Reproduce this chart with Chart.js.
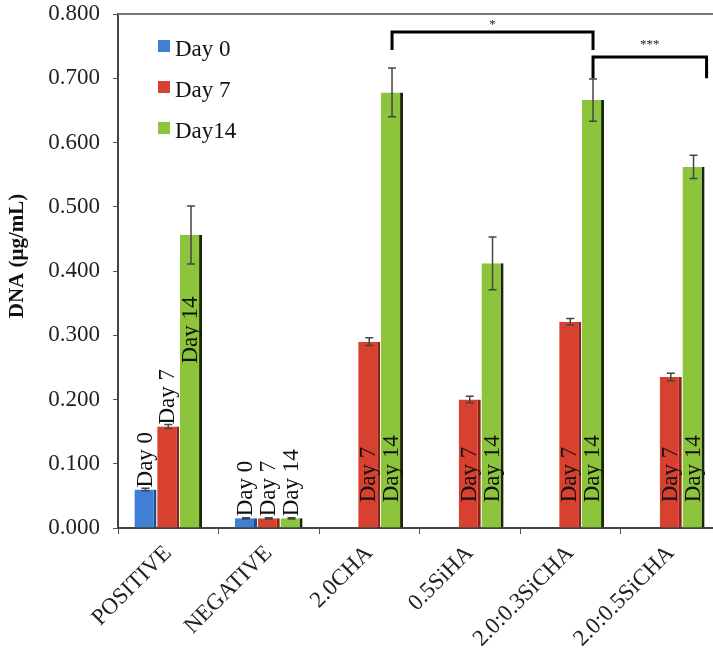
<!DOCTYPE html>
<html>
<head>
<meta charset="utf-8">
<script src="https://cdn.jsdelivr.net/npm/chart.js@4.4.1/dist/chart.umd.min.js"></script>
<style>
  body { margin: 0; background: #fff; overflow: hidden; }
  #wrap { position: absolute; left: 0; top: 0; width: 721px; height: 659px; }
</style>
</head>
<body>
<div id="wrap"><canvas id="dnaChart"></canvas></div>
<script>
// values
const groups = ['POSITIVE', 'NEGATIVE', '2.0CHA', '0.5SiHA', '2.0:0.3SiCHA', '2.0:0.5SiCHA'];
const seriesNames = ['Day 0', 'Day 7', 'Day14'];
const barTags = ['Day 0', 'Day 7', 'Day 14'];
const day0 = [0.060, 0.015, null, null, null, null];
const day7 = [0.158, 0.015, 0.290, 0.200, 0.321, 0.235];
const day14 = [0.456, 0.015, 0.678, 0.412, 0.666, 0.562];
const err0 = [0.002, 0.001, null, null, null, null];
const err7 = [0.003, 0.001, 0.006, 0.005, 0.005, 0.006];
const err14 = [0.045, 0.001, 0.038, 0.041, 0.033, 0.018];
const yTicks = [0, 0.1, 0.2, 0.3, 0.4, 0.5, 0.6, 0.7, 0.8];

const serif = '"Liberation Serif", "Times New Roman", serif';
const fills = ['#3f80d6', '#d8402f', '#8cc43c'];
const edges = ['#1f4f8c', '#8a2418', '#1a2608'];
const errors = [err0, err7, err14];

// where the in-bar tags of the POSITIVE group start (they step upward)
const tagStart = { '2-0': 0.256 };

const errorBars = {
  id: 'errorBars',
  afterDatasetsDraw(chart) {
    const ctx = chart.ctx;
    const y = chart.scales.y;
    ctx.save();
    ctx.strokeStyle = '#444';
    ctx.lineWidth = 1.5;
    chart.data.datasets.forEach((ds, i) => {
      chart.getDatasetMeta(i).data.forEach((bar, j) => {
        const v = ds.data[j], e = errors[i][j];
        if (v == null || e == null) return;
        const top = y.getPixelForValue(v + e), bot = y.getPixelForValue(v - e);
        ctx.beginPath();
        ctx.moveTo(bar.x, top); ctx.lineTo(bar.x, bot);
        ctx.moveTo(bar.x - 4, top); ctx.lineTo(bar.x + 4, top);
        ctx.moveTo(bar.x - 4, bot); ctx.lineTo(bar.x + 4, bot);
        ctx.stroke();
      });
    });
    ctx.restore();
  }
};

const barLabels = {
  id: 'barLabels',
  afterDatasetsDraw(chart) {
    const ctx = chart.ctx;
    const y = chart.scales.y;
    ctx.save();
    ctx.font = '23px ' + serif;
    ctx.fillStyle = '#111';
    ctx.textAlign = 'left';
    ctx.textBaseline = 'middle';
    chart.data.datasets.forEach((ds, i) => {
      chart.getDatasetMeta(i).data.forEach((bar, j) => {
        const v = ds.data[j];
        if (v == null) return;
        const txt = barTags[i];
        const w = ctx.measureText(txt).width;
        let start = y.getPixelForValue(0.04);
        const key = i + '-' + j;
        if (tagStart[key] != null) start = y.getPixelForValue(tagStart[key]);
        else if (start - w < bar.y + 30) start = bar.y - 2;
        ctx.save();
        ctx.translate(bar.x, start);
        ctx.rotate(-Math.PI / 2);
        ctx.fillText(txt, 0, 0);
        ctx.restore();
      });
    });
    ctx.restore();
  }
};

const extras = {
  id: 'extras',
  afterDraw(chart) {
    const ctx = chart.ctx;
    const a = chart.chartArea;
    const y = chart.scales.y;
    ctx.save();
    // top frame line
    ctx.strokeStyle = '#777';
    ctx.lineWidth = 2;
    ctx.beginPath();
    ctx.moveTo(a.left, a.top); ctx.lineTo(a.right, a.top);
    ctx.stroke();

    // y axis title
    ctx.fillStyle = '#111';
    ctx.font = 'bold 21px ' + serif;
    ctx.textAlign = 'center';
    ctx.textBaseline = 'middle';
    ctx.save();
    ctx.translate(18, 256);
    ctx.rotate(-Math.PI / 2);
    ctx.fillText('DNA (μg/mL)', 0, 0);
    ctx.restore();

    // legend inside the plot
    ctx.font = '23px ' + serif;
    ctx.textAlign = 'left';
    seriesNames.forEach((name, i) => {
      const cy = 50 + i * 41;
      ctx.fillStyle = fills[i];
      ctx.fillRect(158, cy - 10, 12, 12);
      ctx.fillStyle = '#111';
      ctx.fillText(name, 175, cy);
    });

    // significance brackets
    const m = chart.getDatasetMeta(2).data;
    const x1 = m[2].x, x2 = m[4].x, x3 = m[5].x + m[5].width / 2 + 2;
    ctx.strokeStyle = '#000';
    ctx.lineWidth = 3;
    ctx.beginPath();
    ctx.moveTo(x1, y.getPixelForValue(0.744));
    ctx.lineTo(x1, y.getPixelForValue(0.772));
    ctx.lineTo(x2, y.getPixelForValue(0.772));
    ctx.lineTo(x2, y.getPixelForValue(0.744));
    ctx.moveTo(x2, y.getPixelForValue(0.700));
    ctx.lineTo(x2, y.getPixelForValue(0.733));
    ctx.lineTo(x3, y.getPixelForValue(0.733));
    ctx.lineTo(x3, y.getPixelForValue(0.700));
    ctx.stroke();
    ctx.fillStyle = '#222';
    ctx.textAlign = 'center';
    ctx.font = '13px ' + serif;
    ctx.fillText('*', (x1 + x2) / 2, y.getPixelForValue(0.783));
    ctx.fillText('***', (x2 + x3) / 2, y.getPixelForValue(0.753));
    ctx.restore();
  }
};

const datasets = [day0, day7, day14].map((vals, i) => ({
  label: seriesNames[i],
  data: vals,
  backgroundColor: fills[i],
  borderColor: edges[i],
  borderWidth: { top: 0, right: 3, bottom: 0, left: 0 },
  borderSkipped: false,
  categoryPercentage: 0.68,
  barPercentage: 0.97
}));

new Chart(document.getElementById('dnaChart'), {
  type: 'bar',
  data: { labels: groups, datasets: datasets },
  options: {
    responsive: true,
    maintainAspectRatio: false,
    animation: false,
    layout: { padding: { top: 14, left: 0, right: 0, bottom: 0 } },
    plugins: {
      legend: { display: false },
      tooltip: { enabled: false }
    },
    scales: {
      x: {
        grid: { drawOnChartArea: false, drawTicks: true, tickLength: 6, color: '#555', offset: true },
        border: { color: '#444', width: 2 },
        ticks: {
          autoSkip: false, minRotation: 45, maxRotation: 45, padding: 6,
          color: '#222', font: { family: serif, size: 23 }
        },
        afterFit(scale) { scale.height = 131; scale.paddingTop = 0; }
      },
      y: {
        min: 0, max: 0.8,
        afterBuildTicks(scale) { scale.ticks = yTicks.map(v => ({ value: v })); },
        grid: { drawOnChartArea: false, drawTicks: true, tickLength: 5, color: '#555' },
        border: { color: '#444', width: 2 },
        ticks: {
          padding: 13, color: '#222',
          font: { family: serif, size: 23 },
          callback: v => v.toFixed(3)
        },
        afterFit(scale) { scale.width = 118; scale.paddingTop = 0; scale.paddingBottom = 0; }
      }
    }
  },
  plugins: [errorBars, barLabels, extras]
});
</script>
</body>
</html>
